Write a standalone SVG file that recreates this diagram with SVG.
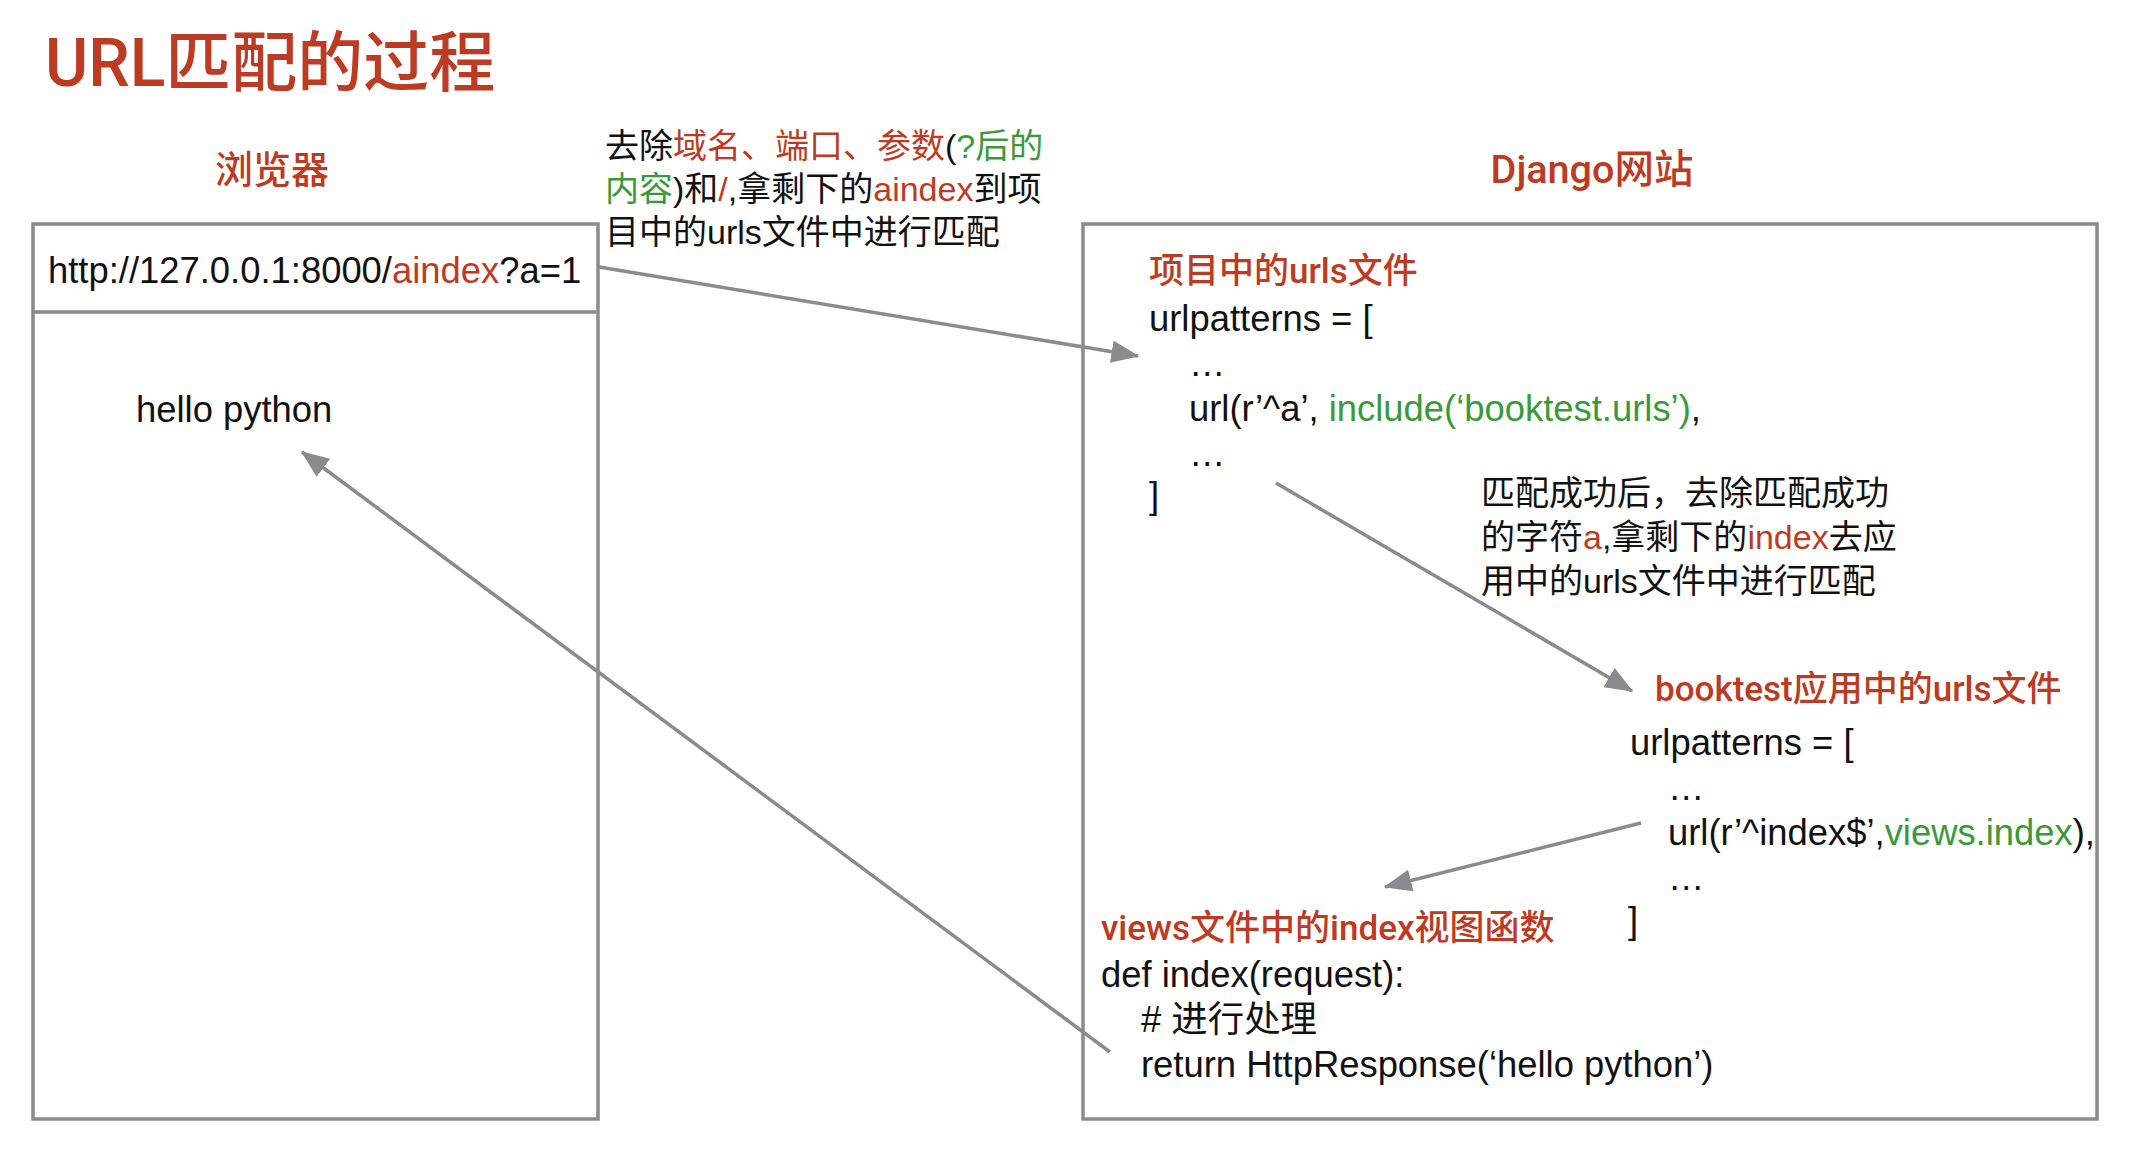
<svg xmlns="http://www.w3.org/2000/svg" width="2143" height="1152" viewBox="0 0 2143 1152">
<defs>
<style>
text{font-family:"Liberation Sans","Noto Sans CJK SC",sans-serif;fill:#111;}
.h{font-family:Roboto,"Noto Sans CJK SC",sans-serif;font-weight:500;fill:#bd3a23;}
.sh{font-size:35px;}
.r{fill:#bd3a23;}
.g{fill:#3a993a;}
.code{font-size:36.4px;}
.note{font-size:34px;}
.box{fill:none;stroke:#8a8b8f;stroke-width:3.5;}
.conn{stroke:#8a8b8f;stroke-width:3.5;fill:none;marker-end:url(#ah);}
</style>
<marker id="ah" viewBox="0 0 10 8" refX="9.5" refY="4" markerWidth="8" markerHeight="6.4" orient="auto" markerUnits="strokeWidth">
<path d="M0,0 L10,4 L0,8 Z" fill="#8a8b8f"/>
</marker>
</defs>
<rect width="2143" height="1152" fill="#fff"/>
<text id="title" class="h" x="45" y="86" font-size="66">URL匹配的过程</text>

<g id="browser">
<text class="h" x="272" y="183" font-size="38" text-anchor="middle">浏览器</text>
<rect class="box" x="33" y="224" width="565" height="895"/>
<line x1="33" y1="312" x2="598" y2="312" stroke="#8a8b8f" stroke-width="3.5"/>
<text class="code" x="48" y="283">http://127.0.0.1:8000/<tspan class="r">aindex</tspan>?a=1</text>
<text class="code" x="136" y="422">hello python</text>
</g>

<g id="note1" class="note">
<text x="605" y="158">去除<tspan class="r">域名、端口、参数</tspan>(<tspan class="g">?后的</tspan></text>
<text x="605" y="201"><tspan class="g">内容</tspan>)和<tspan class="r">/</tspan>,拿剩下的<tspan class="r">aindex</tspan>到项</text>
<text x="605" y="244">目中的urls文件中进行匹配</text>
</g>

<g id="django">
<text class="h" x="1592" y="183" font-size="39.5" text-anchor="middle">Django网站</text>
<rect class="box" x="1083" y="224" width="1014" height="895"/>
</g>

<g id="project-urls">
<text class="h sh" x="1149" y="283">项目中的urls文件</text>
<text class="code" x="1149" y="331">urlpatterns = [</text>
<text class="code" x="1189" y="376">…</text>
<text class="code" x="1189" y="421">url(r’^a’, <tspan class="g">include(‘booktest.urls’)</tspan>,</text>
<text class="code" x="1189" y="466">…</text>
<text class="code" x="1149" y="508">]</text>
</g>

<g id="note2" class="note">
<text x="1481" y="505">匹配成功后，去除匹配成功</text>
<text x="1481" y="549">的字符<tspan class="r">a</tspan>,拿剩下的<tspan class="r">index</tspan>去应</text>
<text x="1481" y="593">用中的urls文件中进行匹配</text>
</g>

<g id="app-urls">
<text class="h sh" x="1655" y="701">booktest应用中的urls文件</text>
<text class="code" x="1630" y="755">urlpatterns = [</text>
<text class="code" x="1668" y="800">…</text>
<text class="code" x="1668" y="845">url(r’^index$’,<tspan class="g">views.index</tspan>),</text>
<text class="code" x="1668" y="890">…</text>
<text class="code" x="1628" y="933">]</text>
</g>

<g id="view-func">
<text class="h sh" x="1101" y="940">views文件中的index视图函数</text>
<text class="code" x="1101" y="987">def index(request):</text>
<text class="code" x="1141" y="1032"># 进行处理</text>
<text class="code" x="1141" y="1077">return HttpResponse(‘hello python’)</text>
</g>

<g id="connectors">
<line class="conn" x1="599" y1="267" x2="1138" y2="356"/>
<line class="conn" x1="1276" y1="483" x2="1632" y2="691"/>
<line class="conn" x1="1641" y1="823" x2="1385" y2="887"/>
<line class="conn" x1="1110" y1="1052" x2="302" y2="452"/>
</g>
</svg>
